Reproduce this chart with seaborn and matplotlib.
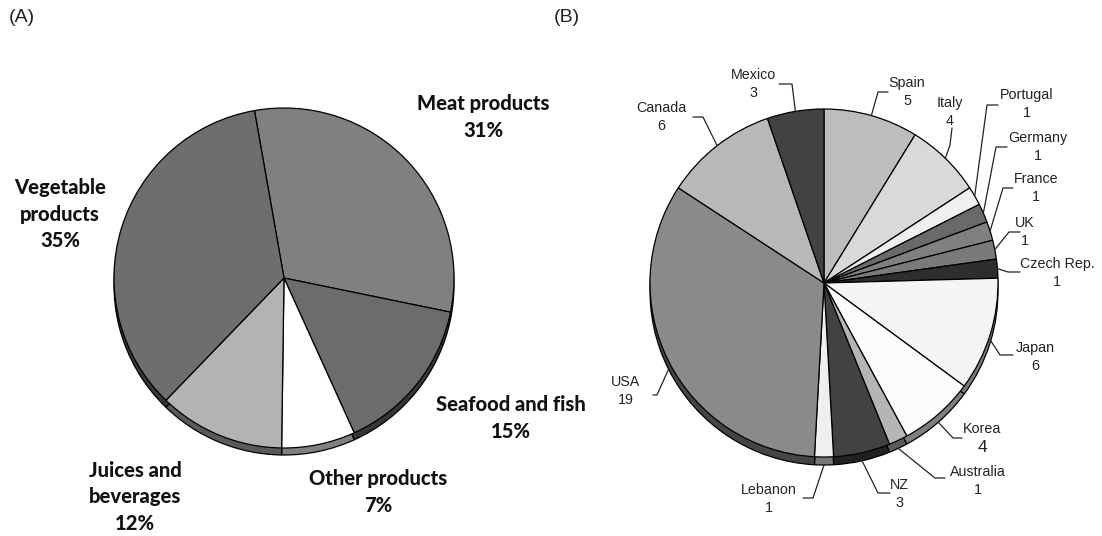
import numpy as np
import matplotlib
matplotlib.use("Agg")
import matplotlib.pyplot as plt
import seaborn as sns
from matplotlib.colors import to_rgb

sns.set_theme(style="white")
plt.rcParams['font.family'] = ['Liberation Sans', 'DejaVu Sans']

# ---------------- data ----------------
# (A) product categories, clockwise from the top
food_labels = ['Meat products', 'Seafood and fish', 'Other products',
               'Juices and\nbeverages', 'Vegetable\nproducts']
food_pct = [31, 15, 7, 12, 35]
food_colors = ['#808080', '#6c6c6c', '#ffffff', '#b3b3b3', '#6e6e6e']

# (B) number of studies by country, clockwise from the top
countries = ['Spain', 'Italy', 'Portugal', 'Germany', 'France', 'UK', 'Czech Rep.',
             'Japan', 'Korea', 'Australia', 'NZ', 'Lebanon', 'USA', 'Canada', 'Mexico']
country_n = [5, 4, 1, 1, 1, 1, 1, 6, 4, 1, 3, 1, 19, 6, 3]
country_colors = ['#bdbdbd', '#d9d9d9', '#efefef', '#6a6a6a', '#808080', '#7a7a7a',
                  '#2e2e2e', '#f5f5f5', '#fcfcfc', '#b5b5b5', '#424242', '#efefef',
                  '#8a8a8a', '#b8b8b8', '#424242']

W, H = 1102, 536
fig = plt.figure(figsize=(W / 100, H / 100), dpi=100)
ax = fig.add_axes([0, 0, 1, 1])


def P(px, py):
    # figure pixel (top-left origin) -> data coords
    return px, H - py


def darker(c, f=0.5):
    r, g, b = to_rgb(c)
    return (r * f, g * f, b * f)


def pie3d(values, colors, cx, cy, r, start, depth):
    # rim first (shifted down), then the top surface
    ax.pie(values, colors=[darker(c) for c in colors], startangle=start,
           counterclock=False, radius=r, center=P(cx, cy + depth),
           wedgeprops=dict(edgecolor='black', linewidth=0.9))
    wedges, _ = ax.pie(values, colors=colors, startangle=start,
                       counterclock=False, radius=r, center=P(cx, cy),
                       wedgeprops=dict(edgecolor='black', linewidth=0.9))
    return wedges


# ---------------- (A) ----------------
pie3d(food_pct, food_colors, 284, 278, 170, 100, 7)

food_text_pos = [(483, 117), (511, 418), (378, 492), (135, 497), (60, 214)]
for lab, pct, (tx, ty) in zip(food_labels, food_pct, food_text_pos):
    ax.text(*P(tx, ty), f"{lab}\n{pct}%", ha='center', va='center',
            fontsize=14.5, fontweight='black', family=['Lato', 'DejaVu Sans'],
            linespacing=1.45, color='#111111')

# ---------------- (B) ----------------
cx, cy, r, depth = 824, 283, 174, 8
wedges = pie3d(country_n, country_colors, cx, cy, r, 90, depth)

# name position, line start (near text), knee
label_layout = {
    'Spain':      ((907, 83),  (888, 92),  (878, 92)),
    'Italy':      ((950, 103), (952, 128), (950, 145)),
    'Portugal':   ((1027, 95), (998, 105), (987, 105)),
    'Germany':    ((1038, 138), (1007, 147), (996, 147)),
    'France':     ((1036, 179), (1013, 188), (1003, 188)),
    'UK':         ((1025, 223), (1020, 232), (1009, 232)),
    'Czech Rep.': ((1057, 264), (1020, 272), (1008, 272)),
    'Japan':      ((1035, 348), (1013, 355), (1000, 355)),
    'Korea':      ((982, 429), (962, 438), (953, 438)),
    'Australia':  ((978, 472), (945, 478), (935, 478)),
    'NZ':         ((899, 485), (890, 493), (878, 493)),
    'Lebanon':    ((769, 490), (803, 498), (813, 498)),
    'USA':        ((626, 382), (653, 395), (657, 395)),
    'Canada':     ((661, 108), (693, 117), (703, 117)),
    'Mexico':     ((753, 75),  (779, 84),  (792, 84)),
}

for w, name, n in zip(wedges, countries, country_n):
    (tx, ty), (sx, sy), (kx, ky) = label_layout[name]
    mid = np.deg2rad((w.theta1 + w.theta2) / 2)
    ex = cx + r * np.cos(mid)
    ey = cy - r * np.sin(mid)
    if np.sin(mid) < 0:
        ey += depth * min(1, -np.sin(mid) * 2)
    xs, ys = zip(*[P(sx, sy), P(kx, ky), P(ex, ey)])
    ax.plot(xs, ys, color='#222222', lw=0.9)
    ax.text(*P(tx, ty), name, ha='center', va='center', fontsize=10.3, color='#222222')
    ax.text(*P(tx, ty + 18), str(n), ha='center', va='center',
            fontsize=12.5 if name == 'Korea' else 10.3, color='#222222')

# panel tags
ax.text(*P(22, 18), '(A)', ha='center', va='center', fontsize=14, color='#222222')
ax.text(*P(567, 18), '(B)', ha='center', va='center', fontsize=14, color='#222222')

ax.set_xlim(0, W)
ax.set_ylim(0, H)
ax.set_aspect('equal')
ax.axis('off')

fig.savefig('out.png', dpi=100)
